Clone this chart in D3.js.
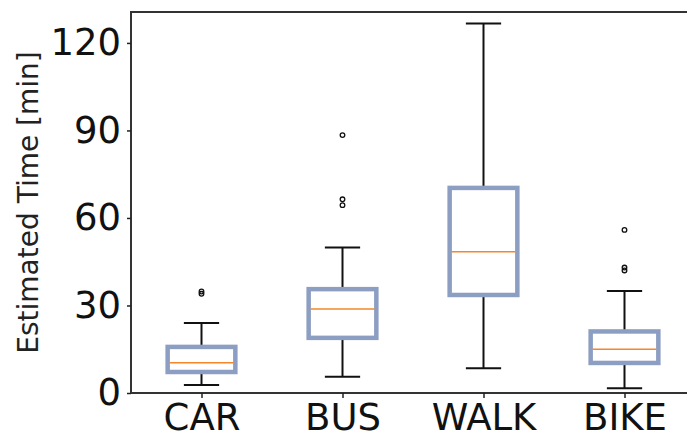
<!DOCTYPE html>
<html>
<head>
<meta charset="utf-8">
<script src="https://cdn.jsdelivr.net/npm/d3@7"></script>
<style>
  body { margin: 0; background: #fff; }
  svg { display: block; font-family: "DejaVu Sans", sans-serif; }
</style>
</head>
<body>
<svg id="chart" width="687" height="434"></svg>
<script>
// box stats (minutes)
var modes = ["CAR", "BUS", "WALK", "BIKE"];
var whiskLo = [2.7, 5.6, 8.5, 1.6];
var q1 = [7.2, 18.9, 33.6, 10.3];
var median = [10.4, 28.8, 48.4, 15.0];
var q3 = [15.8, 35.6, 70.3, 21.1];
var whiskHi = [24.0, 49.9, 126.7, 35.0];
var fliers = [[34.0, 34.8], [64.4, 66.4, 88.4], [], [42.0, 43.0, 55.9]];
var yTicks = [0, 30, 60, 90, 120];

var plotL = 131, plotT = 12, plotB = 393, plotR = 695;

var svg = d3.select('#chart');

var x = d3.scaleLinear().domain([0.5, 4.5]).range([plotL, plotR]);
var y = d3.scaleLinear().domain([0, 130.6]).range([plotB, plotT]);

var boxW = 0.48, capW = 0.25;

var data = modes.map(function (m, i) {
  return { name: m, pos: i + 1, lo: whiskLo[i], q1: q1[i], med: median[i], q3: q3[i], hi: whiskHi[i], fl: fliers[i] };
});

var g = svg.selectAll('.box').data(data).enter().append('g').attr('class', 'box');

// whiskers
g.append('line')
  .attr('x1', function (d) { return x(d.pos); }).attr('x2', function (d) { return x(d.pos); })
  .attr('y1', function (d) { return y(d.lo); }).attr('y2', function (d) { return y(d.q1); })
  .attr('stroke', '#111').attr('stroke-width', 2);
g.append('line')
  .attr('x1', function (d) { return x(d.pos); }).attr('x2', function (d) { return x(d.pos); })
  .attr('y1', function (d) { return y(d.q3); }).attr('y2', function (d) { return y(d.hi); })
  .attr('stroke', '#111').attr('stroke-width', 2);
// caps
['lo', 'hi'].forEach(function (k) {
  g.append('line')
    .attr('x1', function (d) { return x(d.pos - capW / 2); }).attr('x2', function (d) { return x(d.pos + capW / 2); })
    .attr('y1', function (d) { return y(d[k]); }).attr('y2', function (d) { return y(d[k]); })
    .attr('stroke', '#111').attr('stroke-width', 2);
});

// boxes
g.append('rect')
  .attr('x', function (d) { return x(d.pos - boxW / 2); })
  .attr('width', function (d) { return x(d.pos + boxW / 2) - x(d.pos - boxW / 2); })
  .attr('y', function (d) { return y(d.q3); })
  .attr('height', function (d) { return y(d.q1) - y(d.q3); })
  .attr('fill', 'none').attr('stroke', '#8c9ec2').attr('stroke-width', 4.5);

// medians
g.append('line')
  .attr('x1', function (d) { return x(d.pos - boxW / 2) + 2; }).attr('x2', function (d) { return x(d.pos + boxW / 2) - 2; })
  .attr('y1', function (d) { return y(d.med); }).attr('y2', function (d) { return y(d.med); })
  .attr('stroke', '#f5862a').attr('stroke-width', 1.5);

// fliers
g.selectAll('circle').data(function (d) {
  return d.fl.map(function (v) { return { pos: d.pos, v: v }; });
}).enter().append('circle')
  .attr('cx', function (d) { return x(d.pos); })
  .attr('cy', function (d) { return y(d.v); })
  .attr('r', 2.3).attr('fill', 'none').attr('stroke', '#111').attr('stroke-width', 1.3);

// frame
svg.append('path')
  .attr('d', 'M' + plotR + ',' + plotT + 'H' + plotL + 'V' + plotB + 'H' + plotR)
  .attr('fill', 'none').attr('stroke', '#333').attr('stroke-width', 2);

// y axis
var yAxis = svg.append('g').attr('transform', 'translate(' + plotL + ',0)')
  .call(d3.axisLeft(y).tickValues(yTicks).tickSize(4).tickPadding(6));
yAxis.select('.domain').remove();
yAxis.selectAll('.tick line').attr('stroke', '#222').attr('stroke-width', 1.5);
yAxis.selectAll('.tick text').attr('font-size', 37).attr('fill', '#111')
  .attr('font-family', '"DejaVu Sans", sans-serif');

// x axis
var xAxis = svg.append('g').attr('transform', 'translate(0,' + plotB + ')')
  .call(d3.axisBottom(x).tickValues([1, 2, 3, 4]).tickFormat(function (d) { return modes[d - 1]; }).tickSize(5).tickPadding(6));
xAxis.select('.domain').remove();
xAxis.selectAll('.tick line').attr('stroke', '#222').attr('stroke-width', 1.5);
xAxis.selectAll('.tick text').attr('font-size', 37).attr('fill', '#111')
  .attr('font-family', '"DejaVu Sans", sans-serif');

// y label
svg.append('text')
  .attr('transform', 'translate(38,' + ((plotT + plotB) / 2) + ') rotate(-90)')
  .attr('text-anchor', 'middle')
  .attr('font-size', 28).attr('fill', '#222')
  .text('Estimated Time [min]');
</script>
</body>
</html>
